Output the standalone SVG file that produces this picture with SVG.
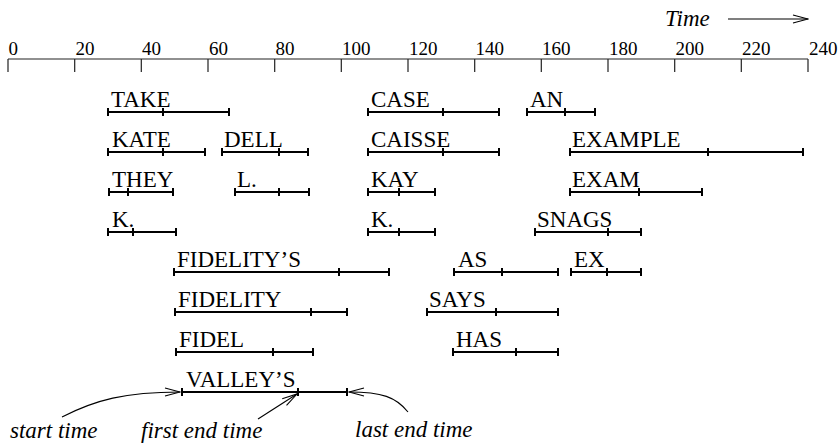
<svg xmlns="http://www.w3.org/2000/svg" width="840" height="444" viewBox="0 0 840 444">
  <style>
    text { font-family: "Liberation Serif", "DejaVu Serif", serif; fill: #000; }
    .num { font-size: 19px; }
    .lbl { font-size: 23px; }
    .it { font-size: 23px; font-style: italic; }
    .axis { stroke: #222; stroke-width: 1.2; fill: none; }
    .bar { stroke: #000; stroke-width: 2; fill: none; }
    .conn { stroke: #000; stroke-width: 1.1; fill: none; }
  </style>
  <defs>
    <marker id="open" viewBox="-16 -5 17 10" refX="0" refY="0" markerWidth="17" markerHeight="10" markerUnits="userSpaceOnUse" orient="auto">
      <path d="M-15,-4 L0,0 L-15,4" fill="none" stroke="#000" stroke-width="1.1"/>
    </marker>
  </defs>

  <!-- time axis -->
  <g id="axis">
    <text class="it" x="665" y="26">Time</text>
    <path class="conn" d="M728,19 H808" marker-end="url(#open)"/>
    <path class="axis" d="M8,59 H808 M8,59 V72 M74.7,59 V72 M141.3,59 V72 M208,59 V72 M274.7,59 V72 M341.3,59 V72 M408,59 V72 M474.7,59 V72 M541.3,59 V72 M608,59 V72 M674.7,59 V72 M741.3,59 V72 M808,59 V72"/>
    <g class="num">
      <text x="8.5" y="55">0</text>
      <text x="75.5" y="55">20</text>
      <text x="142" y="55">40</text>
      <text x="209" y="55">60</text>
      <text x="275.5" y="55">80</text>
      <text x="342" y="55">100</text>
      <text x="409" y="55">120</text>
      <text x="475.5" y="55">140</text>
      <text x="542" y="55">160</text>
      <text x="609" y="55">180</text>
      <text x="675.5" y="55">200</text>
      <text x="742" y="55">220</text>
      <text x="809" y="55">240</text>
    </g>
  </g>

  <!-- word hypotheses: start, first end, last end -->
  <g id="take"><text class="lbl" x="111" y="107">TAKE</text><path class="bar" d="M108,112H229M108,108v8M163,108v8M229,108v8"/></g>
  <g id="case"><text class="lbl" x="371" y="107">CASE</text><path class="bar" d="M368,112H499M368,108v8M443,108v8M499,108v8"/></g>
  <g id="an"><text class="lbl" x="530" y="107">AN</text><path class="bar" d="M527,112H595M527,108v8M565,108v8M595,108v8"/></g>

  <g id="kate"><text class="lbl" x="112" y="147">KATE</text><path class="bar" d="M108,152H205M108,148v8M163,148v8M205,148v8"/></g>
  <g id="dell"><text class="lbl" x="224" y="147">DELL</text><path class="bar" d="M222,152H308M222,148v8M279,148v8M308,148v8"/></g>
  <g id="caisse"><text class="lbl" x="371" y="147">CAISSE</text><path class="bar" d="M368,152H499M368,148v8M443,148v8M499,148v8"/></g>
  <g id="example"><text class="lbl" x="572" y="147">EXAMPLE</text><path class="bar" d="M570,152H803M570,148v8M708,148v8M803,148v8"/></g>

  <g id="they"><text class="lbl" x="112" y="187">THEY</text><path class="bar" d="M109,192H173M109,188v8M128,188v8M173,188v8"/></g>
  <g id="l"><text class="lbl" x="237" y="187">L.</text><path class="bar" d="M235,192H309M235,188v8M279,188v8M309,188v8"/></g>
  <g id="kay"><text class="lbl" x="371" y="187">KAY</text><path class="bar" d="M368,192H435M368,188v8M399,188v8M435,188v8"/></g>
  <g id="exam"><text class="lbl" x="572" y="187">EXAM</text><path class="bar" d="M570,192H702M570,188v8M639,188v8M702,188v8"/></g>

  <g id="k-1"><text class="lbl" x="112" y="227">K.</text><path class="bar" d="M108,232H176M108,228v8M133,228v8M176,228v8"/></g>
  <g id="k-2"><text class="lbl" x="371" y="227">K.</text><path class="bar" d="M368,232H435M368,228v8M399,228v8M435,228v8"/></g>
  <g id="snags"><text class="lbl" x="537" y="227">SNAGS</text><path class="bar" d="M535,232H641M535,228v8M608,228v8M641,228v8"/></g>

  <g id="fidelitys"><text class="lbl" x="177" y="267">FIDELITY’S</text><path class="bar" d="M174,272H389M174,268v8M339,268v8M389,268v8"/></g>
  <g id="as"><text class="lbl" x="458" y="267">AS</text><path class="bar" d="M454,272H558M454,268v8M502,268v8M558,268v8"/></g>
  <g id="ex"><text class="lbl" x="574" y="267">EX</text><path class="bar" d="M571,272H641M571,268v8M607,268v8M641,268v8"/></g>

  <g id="fidelity"><text class="lbl" x="178" y="307">FIDELITY</text><path class="bar" d="M175,312H347M175,308v8M311,308v8M347,308v8"/></g>
  <g id="says"><text class="lbl" x="429" y="307">SAYS</text><path class="bar" d="M427,312H558M427,308v8M496,308v8M558,308v8"/></g>

  <g id="fidel"><text class="lbl" x="179" y="347">FIDEL</text><path class="bar" d="M176,352H313M176,348v8M273,348v8M313,348v8"/></g>
  <g id="has"><text class="lbl" x="456" y="347">HAS</text><path class="bar" d="M453,352H558M453,348v8M516,348v8M558,348v8"/></g>

  <g id="valleys"><text class="lbl" x="186" y="387">VALLEY’S</text><path class="bar" d="M182,392H347M182,388v8M298,388v8M347,388v8"/></g>

  <!-- annotations -->
  <g id="notes">
    <text class="it" x="10" y="438">start time</text>
    <text class="it" x="141" y="438">first end time</text>
    <text class="it" x="355" y="437">last end time</text>
  </g>
  <g id="connectors">
    <path class="conn" d="M62,417 C95,400 125,392 180,392" marker-end="url(#open)"/>
    <path class="conn" d="M258,419 L297,394" marker-end="url(#open)"/>
    <path class="conn" d="M408,412 C396,397 382,392 349,392" marker-end="url(#open)"/>
  </g>
</svg>
